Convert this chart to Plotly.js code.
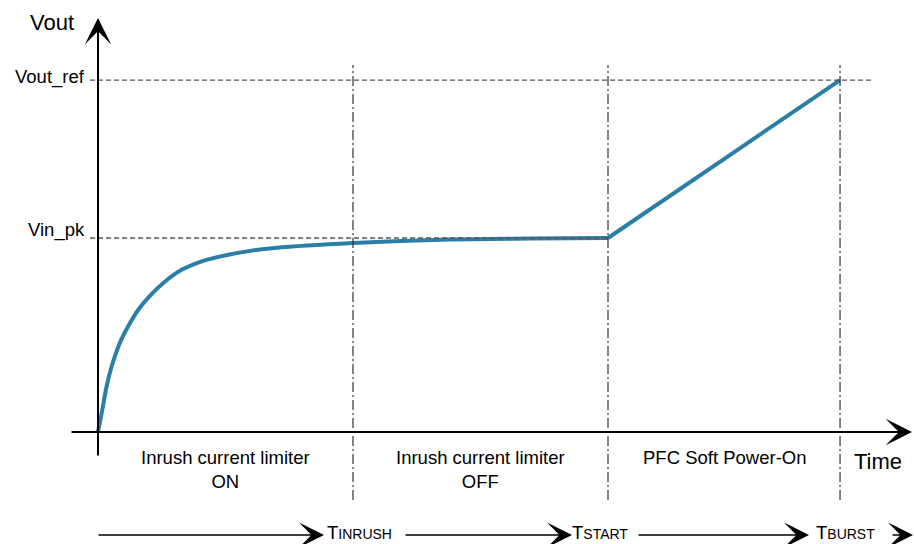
<!DOCTYPE html>
<html>
<head>
<meta charset="utf-8">
<script src="https://cdn.plot.ly/plotly-3.0.1.min.js"></script>
<style>html,body{margin:0;padding:0;background:#fff;}#chart{width:914px;height:544px;}</style>
</head>
<body>
<div id="chart"></div>
<script>
// ---- data ----
const tCurve = [0, 0.0145, 0.034, 0.054, 0.086, 0.119, 0.158, 0.211, 0.263, 0.328, 0.407, 0.511, 0.603, 0.694, 1.0, 1.38, 1.694, 2.0];
const vCurve = [0, 0.098, 0.237, 0.340, 0.460, 0.546, 0.630, 0.712, 0.776, 0.836, 0.880, 0.914, 0.935, 0.949, 0.974, 0.992, 0.997, 1.0];
const tRamp = [2.0, 2.91];
const vRamp = [1.0, 1.814];
const phaseNames = ['INRUSH', 'START', 'BURST'];
const phaseTimes = [1.0, 2.0, 2.91];
const levelLabels = ['Vin_pk', 'Vout_ref'];
const levelValues = [1.0, 1.814];
const regionLabels = ['Inrush current limiter<br>ON', 'Inrush current limiter<br>OFF', 'PFC Soft Power-On'];
const xTitle = 'Time';
const yTitle = 'Vout';

// ---- layout helpers (pixel frame of the drawing) ----
const W = 914, H = 544, X0 = 98, Y0 = 432, PXT = 255, PXV = 194;
const t = p => (p - X0) / PXT;
const v = p => (Y0 - p) / PXV;
const FONT = 'Liberation Sans, Arial, sans-serif';
const BLUE = '#2b7ea5';

const traces = [
  {x: tCurve, y: vCurve, mode: 'lines', line: {color: BLUE, width: 4, shape: 'spline', smoothing: 0.8}, hoverinfo: 'skip'},
  {x: tRamp, y: vRamp, mode: 'lines', line: {color: BLUE, width: 4}, hoverinfo: 'skip'}
];

const shapes = [];
// level dashed lines
shapes.push({type: 'line', xref: 'x', yref: 'y', x0: t(90), x1: phaseTimes[1], y0: levelValues[0], y1: levelValues[0],
  line: {color: '#555', width: 1.3, dash: '5px,3px'}});
shapes.push({type: 'line', xref: 'x', yref: 'y', x0: t(90), x1: t(872), y0: levelValues[1], y1: levelValues[1],
  line: {color: '#555', width: 1.3, dash: '5px,3px'}});
// phase dash-dot lines
phaseTimes.forEach(pt => shapes.push({type: 'line', xref: 'x', yref: 'y', x0: pt, x1: pt, y0: v(500), y1: v(65),
  line: {color: '#333', width: 1.2, dash: '10px,3px,2px,3px'}}));

const annotations = [];
const arrow = (x, y, ax, ay, w, size) => ({x: x, y: y, ax: ax, ay: ay, xref: 'x', yref: 'y', axref: 'x', ayref: 'y',
  text: '', showarrow: true, arrowhead: 3, arrowsize: size, arrowwidth: w, arrowcolor: '#000', standoff: 0, startstandoff: 0});
// axes
annotations.push(arrow(0, v(18), 0, v(457), 2, 2.2));
annotations.push(arrow(t(912), 0, t(70), 0, 2, 2.2));
// timeline arrows
const yArr = v(535);
annotations.push(arrow(t(324), yArr, t(97), yArr, 1.6, 2.6));
annotations.push(arrow(t(572), yArr, t(404), yArr, 1.6, 2.6));
annotations.push(arrow(t(809), yArr, t(637), yArr, 1.6, 2.6));
annotations.push(arrow(t(913), yArr, t(891), yArr, 1.6, 2.6));

const txt = (x, y, text, size, xa, extra) => Object.assign({x: x, y: y, xref: 'x', yref: 'y', text: text, showarrow: false,
  xanchor: xa, yanchor: 'middle', font: {family: FONT, size: size, color: '#000'}}, extra || {});
// axis titles
annotations.push(txt(t(52), v(22), yTitle, 22, 'center'));
annotations.push(txt(t(878), v(461), xTitle, 22, 'center'));
// level labels
annotations.push(txt(t(87), v(230), levelLabels[0], 18.5, 'right'));
annotations.push(txt(t(87), v(77), levelLabels[1], 18.5, 'right'));
// region labels
const starts = [0].concat(phaseTimes.slice(0, 2));
regionLabels.forEach((lab, i) => {
  const c = (starts[i] + phaseTimes[i]) / 2;
  const twoLine = lab.indexOf('<br>') >= 0;
  annotations.push(txt(c, v(twoLine ? 469 : 457), lab, 18.5, 'center'));
});
// phase time labels (small caps), box kept inside the page
const phaseLabelPx = [326, 571, 815];
phaseNames.forEach((n, i) => {
  annotations.push(txt(t(phaseLabelPx[i]), v(543.5), 'T<span style="font-size:14px">' + n + '</span>', 18.5, 'left',
    {yanchor: 'bottom', borderpad: 0}));
});

const layout = {
  width: W, height: H, autosize: false,
  margin: {l: 0, r: 0, t: 0, b: 0, pad: 0},
  paper_bgcolor: '#fff', plot_bgcolor: '#fff',
  showlegend: false,
  xaxis: {range: [t(0), t(W)], visible: false, fixedrange: true},
  yaxis: {range: [v(H), v(0)], visible: false, fixedrange: true},
  shapes: shapes,
  annotations: annotations
};

Plotly.newPlot('chart', traces, layout, {displayModeBar: false, staticPlot: true});
</script>
</body>
</html>
